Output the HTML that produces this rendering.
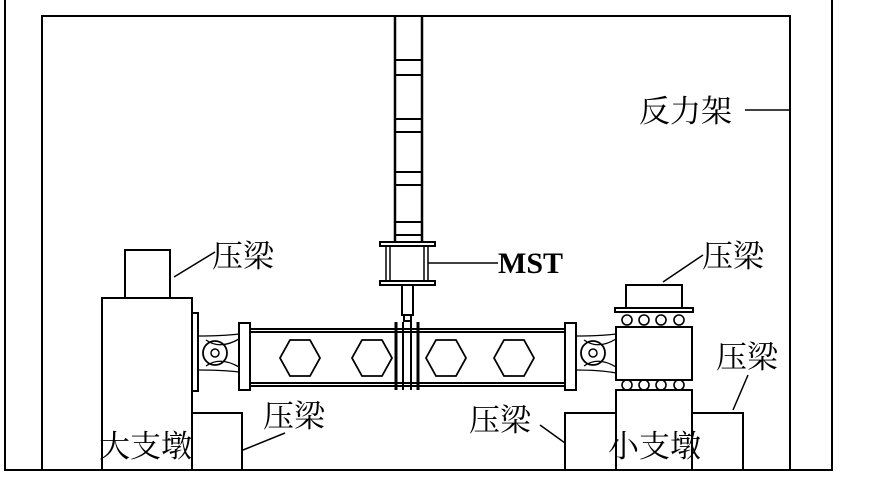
<!DOCTYPE html>
<html><head><meta charset="utf-8"><style>
body{margin:0;background:#fff}
svg{display:block}
text{font-family:"Liberation Serif","Noto Serif CJK SC",serif;fill:#000}
</style></head><body>
<svg width="879" height="484" viewBox="0 0 879 484" xmlns="http://www.w3.org/2000/svg">
<g fill="none" stroke="#000" stroke-width="2">
<path d="M5,0 V470 H832 V0"/>
<path d="M42,470 V16 H790 V470"/>
<path d="M395,16 V242 M422,16 V242" stroke-width="2.5"/>
<path d="M395,60H422M395,75H422M395,119H422M395,132H422M395,172H422M395,185H422M395,222H422M395,235H422"/>
<rect x="380" y="242" width="55" height="4"/>
<rect x="380" y="281" width="55" height="4"/>
<path d="M386,246V281M390,246V281M424,246V281M428,246V281" stroke-width="1.5"/>
<rect x="402" y="285" width="11" height="30"/>
<rect x="404" y="315" width="7" height="6"/>
<path d="M428,263H498" stroke-width="1.5"/>
<path d="M250,329H565M250,332H565M250,383H565M250,386H565"/>
<rect x="239" y="323" width="11" height="67"/>
<rect x="565" y="323" width="11" height="67"/>
<path d="M396,322V390M418,322V390" stroke-width="3"/>
<path d="M403,322V390M411,322V390" stroke-width="2"/>
<path d="M394,329H420M394,386H420" stroke-width="2"/>
<g stroke-width="1.8">
<polygon points="280,358 290,340 310,340 320,358 310,376 290,376"/>
<polygon points="352,358 362,340 382,340 392,358 382,376 362,376"/>
<polygon points="426,358 436,340 456,340 466,358 456,376 436,376"/>
<polygon points="494,358 504,340 524,340 534,358 524,376 504,376"/>
</g>
<rect x="125" y="250" width="45" height="48"/>
<rect x="102" y="298" width="90" height="172"/>
<rect x="192" y="313" width="6" height="78"/>
<rect x="192" y="413" width="50" height="57"/>
<circle cx="215" cy="353" r="12" stroke-width="1.8"/>
<circle cx="215" cy="353" r="4" stroke-width="1.5"/>
<path d="M198,336 Q222,336 239,334 M198,370 Q222,370 239,372 M206,340 Q220,350 239,339 M206,366 Q220,356 239,367" stroke-width="1.3"/>
<rect x="626" y="285" width="56" height="23"/>
<rect x="615" y="308" width="78" height="4"/>
<g stroke-width="1.6">
<circle cx="627" cy="320" r="5"/><circle cx="644" cy="320" r="5"/><circle cx="661" cy="320" r="5"/><circle cx="679" cy="320" r="5"/>
<circle cx="627" cy="385" r="5"/><circle cx="644" cy="385" r="5"/><circle cx="661" cy="385" r="5"/><circle cx="679" cy="385" r="5"/>
</g>
<rect x="616" y="327" width="76" height="53"/>
<rect x="616" y="390" width="76" height="80"/>
<rect x="565" y="413" width="51" height="57"/>
<rect x="692" y="413" width="51" height="57"/>
<circle cx="593" cy="353" r="12" stroke-width="1.8"/>
<circle cx="593" cy="353" r="4" stroke-width="1.5"/>
<path d="M576,336 Q600,336 616,334 M576,370 Q600,370 616,373 M584,340 Q598,350 616,339 M584,366 Q598,356 616,367" stroke-width="1.3"/>
<path d="M174,277L215,252M243,450L285,433M663,282L703,255M733,410L748,375M540,425L565,443M745,110H790" stroke-width="1.5"/>
</g>
<g font-size="31">
<text x="212" y="267">压梁</text>
<text x="263" y="427">压梁</text>
<text x="702" y="267">压梁</text>
<text x="716" y="368">压梁</text>
<text x="469" y="431">压梁</text>
<text x="639" y="122">反力架</text>
<text x="99" y="457">大支墩</text>
<text x="608" y="457">小支墩</text>
<text x="498" y="273" font-weight="bold" font-size="30">MST</text>
</g>
</svg>
</body></html>
